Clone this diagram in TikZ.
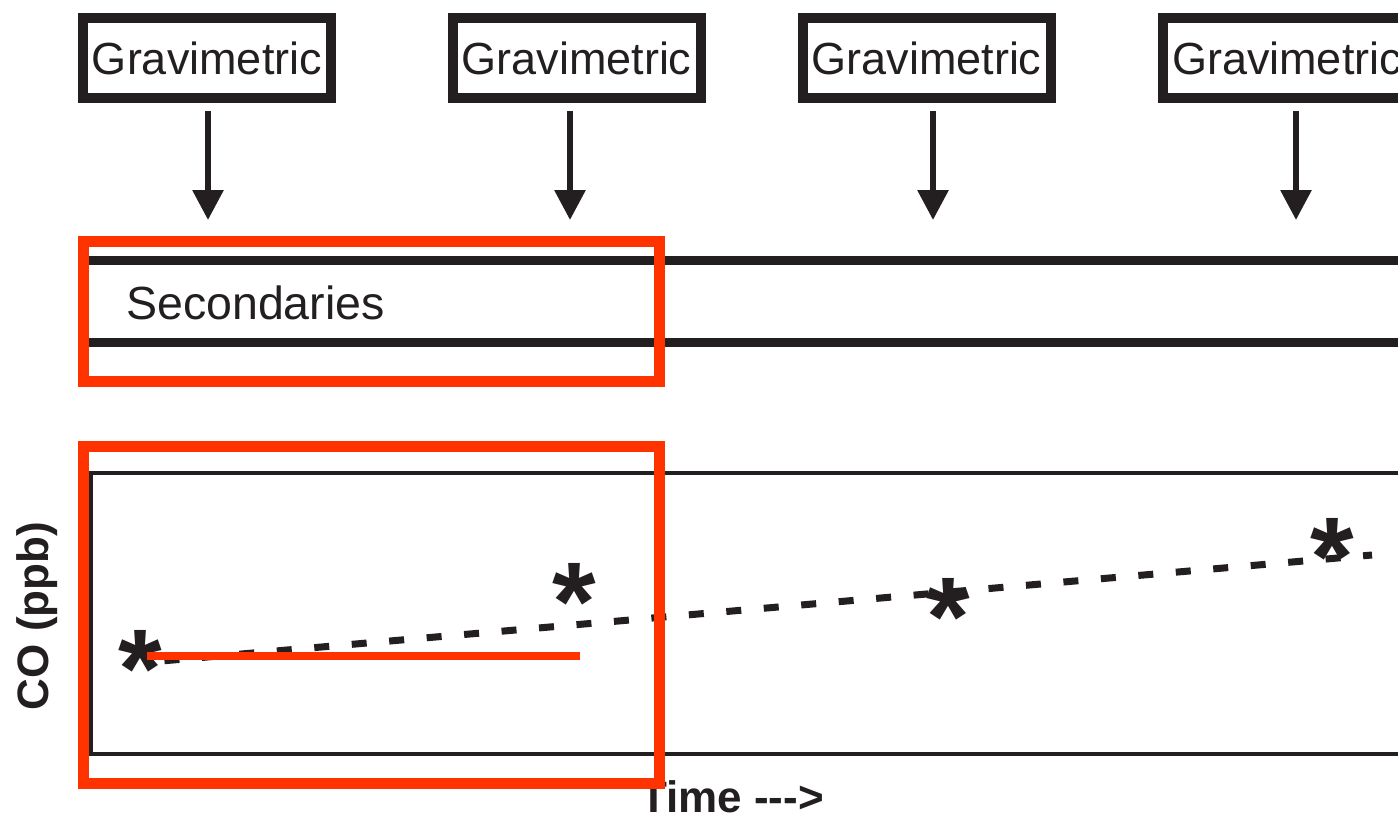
\documentclass[tikz,border=0pt]{standalone}
\usepackage{fontspec}
\setmainfont{Liberation Sans}
\usetikzlibrary{arrows.meta}
\definecolor{ink}{HTML}{231F20}
\definecolor{hl}{HTML}{FF3300}
\begin{document}
\begin{tikzpicture}[x=1pt,y=-1pt,
  grav/.style={draw=ink,line width=10pt,minimum width=248pt,minimum height=80pt,inner sep=0pt,
    font=\fontsize{45}{54}\selectfont,text=ink},
  arr/.style={draw=ink,line width=6pt,-{Triangle[width=30pt,length=30pt]}},
  band/.style={draw=ink,line width=9pt},
  ast/.style={anchor=north,inner sep=0pt,text=ink,font=\bfseries\fontsize{112}{112}\selectfont},
  lbl/.style={inner sep=0pt,text=ink,font=\bfseries\fontsize{44}{44}\selectfont},
  hlbox/.style={draw=hl,line width=11pt},
  trend/.style={draw=ink,line width=7pt,dash pattern=on 15pt off 22.6pt,dash phase=23.1pt}]
\clip (0,0) rectangle (1398,817);
\fill[white] (0,0) rectangle (1398,817);
% gravimetric boxes
\node[grav] (g1) at (207,58) {Gravimetric};
\node[grav] (g2) at (576.5,58) {Gravimetric};
\node[grav] (g3) at (926.5,58) {Gravimetric};
\node[grav] (g4) at (1287,58) {Gravimetric};
% arrow ends
\coordinate (a1t) at (208,111); \coordinate (a1b) at (208,220);
\coordinate (a2t) at (570,111); \coordinate (a2b) at (570,220);
\coordinate (a3t) at (933,111); \coordinate (a3b) at (933,220);
\coordinate (a4t) at (1296,111); \coordinate (a4b) at (1296,220);
\draw[arr] (a1t) -- (a1b);
\draw[arr] (a2t) -- (a2b);
\draw[arr] (a3t) -- (a3b);
\draw[arr] (a4t) -- (a4b);
% secondaries band
\coordinate (b1l) at (78,260.5); \coordinate (b1r) at (1398,260.5);
\coordinate (b2l) at (78,342.5); \coordinate (b2r) at (1398,342.5);
\draw[band] (b1l) -- (b1r);
\draw[band] (b2l) -- (b2r);
\node[anchor=base west,inner sep=0pt,text=ink,font=\fontsize{46.5}{54}\selectfont] (sec) at (126,319) {Secondaries};
% plot frame
\draw[ink,line width=4pt] (91,473) rectangle (1420,754);
% trend line
\coordinate (t0) at (150,662); \coordinate (t1) at (1372,555);
\draw[trend] (t0) -- (t1);
% data points
\node[ast] (s1) at (140,630) {*};
\node[ast] (s2) at (574,563) {*};
\node[ast] (s3) at (948,578) {*};
\node[ast] (s4) at (1332,518) {*};
% axis labels
\node[lbl,rotate=90,anchor=base] (ylab) at (48,616) {CO (ppb)};
\node[lbl,anchor=base west] (xlab) at (640,812) {Time -\kern0pt-\kern0pt->};
% highlights
\draw[hlbox] (83.5,241.5) rectangle (659.5,381.5);
\draw[hlbox] (83.5,446.5) rectangle (659.5,783.5);
\coordinate (r0) at (147,655.5); \coordinate (r1) at (580,655.5);
\draw[hl,line width=8pt] (r0) -- (r1);
\end{tikzpicture}
\end{document}
